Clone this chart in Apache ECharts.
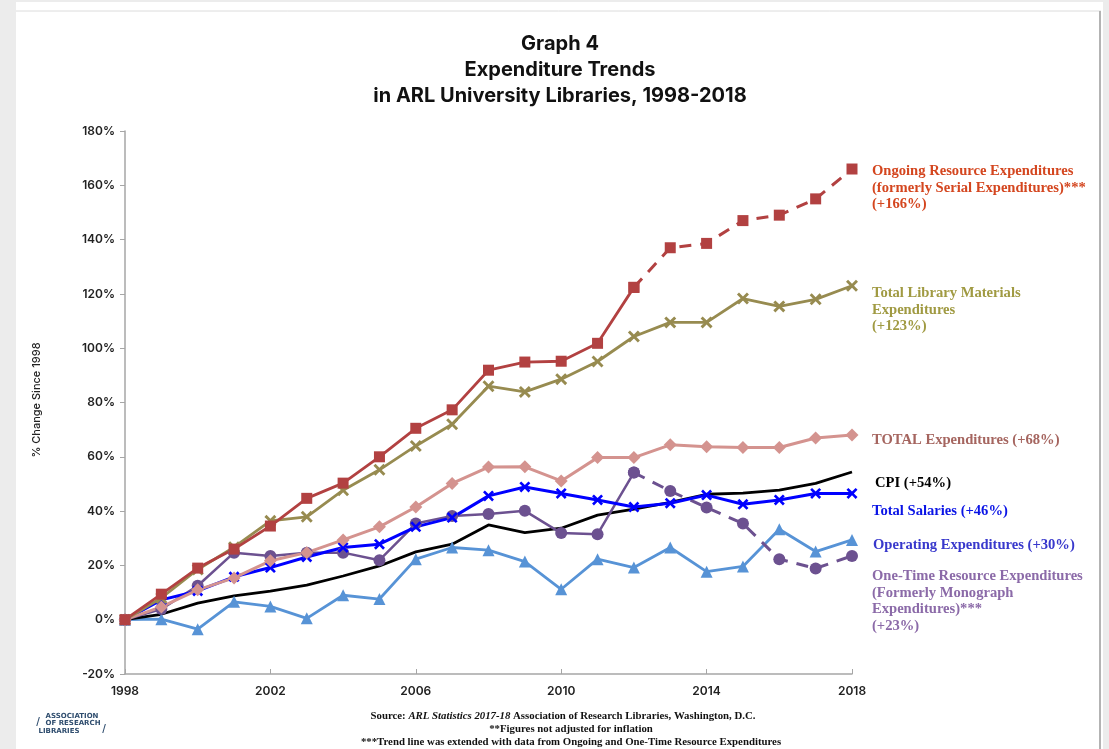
<!DOCTYPE html>
<html>
<head>
<meta charset="utf-8">
<script src="https://cdn.jsdelivr.net/npm/echarts@6/dist/echarts.min.js"></script>
<style>
html,body{margin:0;padding:0;background:#ececec;}
#chart{width:1109px;height:749px;}
</style>
</head>
<body>
<div id="chart"></div>
<script>
const years = [1998,1999,2000,2001,2002,2003,2004,2005,2006,2007,2008,2009,2010,2011,2012,2013,2014,2015,2016,2017,2018];
const ongoing   = [0,9.4,19,26,34.5,44.7,50.3,60,70.5,77.3,91.9,94.9,95.2,101.8,122.4,137,138.6,147,149,155,166];
const materials = [0,8,18.5,26.7,36.4,37.9,47.7,55.2,64,72,86,83.9,88.6,95.1,104.3,109.5,109.5,118.3,115.4,118,123];
const totalExp  = [0,4.7,11,15.4,21.7,24.7,29.4,34.2,41.5,50.2,56.2,56.3,51.1,59.7,59.7,64.4,63.7,63.4,63.4,66.9,68];
const cpi       = [0,2,6.1,8.8,10.5,12.7,16.1,19.8,25,27.8,34.9,32.1,33.7,38.5,40.7,43.2,46.2,46.6,47.7,50.2,54.4];
const salaries  = [0,7.3,10.6,15.8,19.2,23.1,26.6,27.8,34.2,37.6,45.6,48.9,46.5,44.1,41.5,42.9,45.9,42.5,44.1,46.5,46.5];
const operating = [0,0.2,-3.5,6.6,4.9,0.5,9,7.6,22.3,26.6,25.6,21.4,11.2,22.3,19.2,26.6,17.7,19.6,33.3,25.1,29.4];
const oneTime   = [0,3.9,12.5,24.7,23.5,24.7,24.7,21.9,35.4,38.2,38.9,40.1,31.9,31.5,54.2,47.4,41.3,35.4,22.3,18.9,23.5];
const splitYear = 2012;
const yTicks = {min:-20, max:180, interval:20};
const xTicks = {min:1998, max:2018, interval:4};

const titleLines = ['Graph 4','Expenditure Trends','in ARL University Libraries, 1998-2018'];
const yAxisName = '% Change Since 1998';
const sourceLines = ['**Figures not adjusted for inflation','***Trend line was extended with data from Ongoing and One-Time Resource Expenditures'];

function pairs(arr, from, to){
  return years.map((y,i)=>[y, (y>=from && y<=to) ? arr[i] : null]);
}
const X_PATH = 'path://M0,1.7L1.7,0L5,3.3L8.3,0L10,1.7L6.7,5L10,8.3L8.3,10L5,6.7L1.7,10L0,8.3L3.3,5Z';

function line(name, arr, color, symbol, size, width, opts){
  opts = opts || {};
  return {
    name: name, type:'line', data: pairs(arr, opts.from||1998, opts.to||2018),
    symbol: symbol, symbolSize: size, showSymbol: symbol!=='none',
    lineStyle:{color:color, width:width, type: opts.dash ? [12,9] : 'solid'},
    itemStyle:{color:color},
    connectNulls:false, animation:false
  };
}

const series = [
  line('Operating', operating, '#5793d6', 'triangle', 12, 2.8),
  line('CPI', cpi, '#000000', 'none', 0, 2.8),
  line('OneTimeA', oneTime, '#6c5190', 'circle', 12, 2.5, {to:splitYear}),
  line('OneTimeB', oneTime, '#6c5190', 'circle', 12, 3, {from:splitYear, dash:true}),
  line('Salaries', salaries, '#0000ff', X_PATH, 11, 3),
  line('Total', totalExp, '#d4938f', 'diamond', 13, 3),
  line('Materials', materials, '#978b50', X_PATH, 12, 2.8),
  line('OngoingA', ongoing, '#b24141', 'rect', 11, 2.8, {to:splitYear}),
  line('OngoingB', ongoing, '#b24141', 'rect', 11, 3, {from:splitYear, dash:true})
];

const serif = '"Liberation Serif", "DejaVu Serif", serif';
const sans = 'Inter, "Open Sans", sans-serif';
function lbl(x, y, lines, color, size){
  return lines.map((t,i)=>({
    type:'text', left:x, top:y + i*16.5, z:10,
    style:{text:t, fill:color, font:'bold '+(size||14.6)+'px '+serif}
  }));
}

const graphics = [
  {type:'rect', shape:{x:16,y:2,width:1087,height:760}, style:{fill:'#ffffff'}, z:-10},
  {type:'line', shape:{x1:16,y1:11,x2:1101,y2:11}, style:{stroke:'#dcdcdc', lineWidth:1}, z:-9},
  {type:'line', shape:{x1:1100,y1:11,x2:1100,y2:760}, style:{stroke:'#b3b3b3', lineWidth:2}, z:-9},
  ...titleLines.map((t,i)=>({type:'text', x:560, y:44 + i*26, z:10,
    style:{text:t, fill:'#111', font:'bold 20px '+sans, textAlign:'center', textVerticalAlign:'middle'}})),
  {type:'text', x:37, y:400, rotation:Math.PI/2, z:10,
    style:{text:yAxisName, fill:'#222', font:'500 11px '+sans, textAlign:'center', textVerticalAlign:'middle'}},
  ...lbl(872, 164, ['Ongoing Resource Expenditures','(formerly Serial Expenditures)***','(+166%)'], '#d4461f'),
  ...lbl(872, 286, ['Total Library Materials','Expenditures','(+123%)'], '#a09a42'),
  ...lbl(872, 433, ['TOTAL Expenditures (+68%)'], '#a5655f'),
  ...lbl(875, 476, ['CPI (+54%)'], '#000000'),
  ...lbl(872, 504, ['Total Salaries (+46%)'], '#0a14e6'),
  ...lbl(873, 538, ['Operating Expenditures (+30%)'], '#3838cc'),
  ...lbl(872, 569, ['One-Time Resource Expenditures','(Formerly Monograph','Expenditures)***','(+23%)'], '#8b6aa8'),
  {type:'text', x:563, y:716, z:10, style:{
    text:'{b|Source: }{i|ARL Statistics 2017-18}{b| Association of Research Libraries, Washington, D.C.}',
    textAlign:'center', textVerticalAlign:'middle',
    rich:{b:{font:'bold 10.8px '+serif, fill:'#111'}, i:{font:'bold italic 10.8px '+serif, fill:'#111'}}}},
  ...sourceLines.map((t,i)=>({type:'text', x:571, y:729 + i*13, z:10,
    style:{text:t, fill:'#111', font:'bold 10.8px '+serif, textAlign:'center', textVerticalAlign:'middle'}})),
  {type:'text', x:38, y:722, z:10, style:{text:'/', fill:'#2f4d6e', font:'13px sans-serif', textAlign:'center', textVerticalAlign:'middle'}},
  {type:'text', x:104, y:729, z:10, style:{text:'/', fill:'#2f4d6e', font:'13px sans-serif', textAlign:'center', textVerticalAlign:'middle'}},
  {type:'text', x:72, y:716, z:10, style:{text:'ASSOCIATION', fill:'#2f4d6e', font:'bold 7px "DejaVu Sans", sans-serif', textAlign:'center', textVerticalAlign:'middle'}},
  {type:'text', x:73, y:723, z:10, style:{text:'OF RESEARCH', fill:'#2f4d6e', font:'bold 7px "DejaVu Sans", sans-serif', textAlign:'center', textVerticalAlign:'middle'}},
  {type:'text', x:59, y:731, z:10, style:{text:'LIBRARIES', fill:'#2f4d6e', font:'bold 7px "DejaVu Sans", sans-serif', textAlign:'center', textVerticalAlign:'middle'}}
];

const chart = echarts.init(document.getElementById('chart'));
chart.setOption({
  backgroundColor:'#ececec',
  animation:false,
  grid:{left:125, right:257, top:131, bottom:75, containLabel:false},
  xAxis:{type:'value', min:xTicks.min, max:xTicks.max, interval:xTicks.interval,
    axisLine:{onZero:false, lineStyle:{color:'#a6a6a6', width:1.5}},
    axisTick:{inside:true, length:5, lineStyle:{color:'#a6a6a6'}},
    splitLine:{show:false},
    axisLabel:{formatter:v=>String(v), color:'#222', fontFamily:sans, fontWeight:600, fontSize:12, margin:11}},
  yAxis:{type:'value', min:yTicks.min, max:yTicks.max, interval:yTicks.interval,
    axisLine:{show:true, lineStyle:{color:'#a6a6a6', width:1.5}},
    axisTick:{show:true, length:5, lineStyle:{color:'#a6a6a6'}},
    splitLine:{show:false},
    axisLabel:{formatter:'{value}%', color:'#222', fontFamily:sans, fontWeight:600, fontSize:12, margin:10}},
  series: series,
  graphic: graphics
});
</script>
</body>
</html>
